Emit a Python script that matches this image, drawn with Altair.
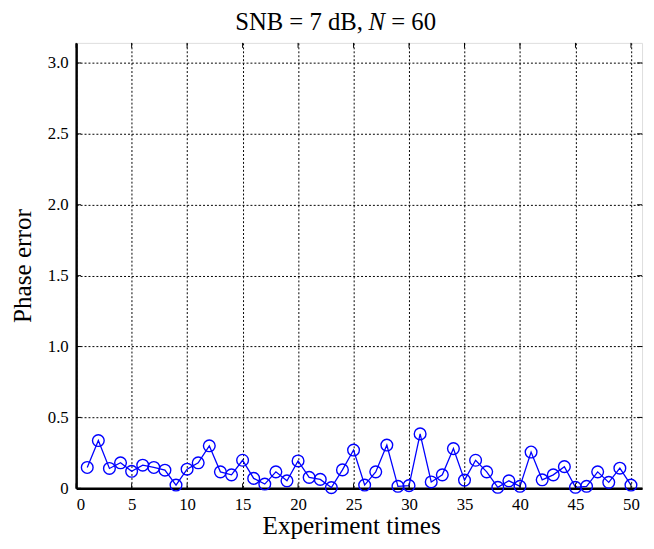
import math
import altair as alt
import pandas as pd

experiment = list(range(1, 51))
phase_error = [0.147, 0.337, 0.140, 0.180, 0.120, 0.163, 0.147, 0.128, 0.023, 0.135,
               0.180, 0.300, 0.116, 0.095, 0.198, 0.070, 0.030, 0.116, 0.053, 0.193,
               0.077, 0.063, 0.005, 0.130, 0.270, 0.023, 0.116, 0.305, 0.014, 0.019,
               0.384, 0.045, 0.095, 0.280, 0.058, 0.198, 0.116, 0.007, 0.053, 0.014,
               0.256, 0.060, 0.095, 0.153, 0.007, 0.014, 0.116, 0.042, 0.142, 0.023]
x_ticks = [0, 5, 10, 15, 20, 25, 30, 35, 40, 45, 50]
y_ticks = [0, 0.5, 1.0, 1.5, 2.0, 2.5, 3.0]
title_parts = ["SNB = 7 dB,", "N", "= 60"]

W, H = 573, 451
FONT = "Liberation Serif"
BLUE = "#0000ff"

df = pd.DataFrame({"x": experiment, "y": phase_error})
xs = alt.Scale(domain=[0, 51], nice=False)
ys = alt.Scale(domain=[0, math.pi], nice=False)

base = alt.Chart(df)

line = base.mark_line(color=BLUE, strokeWidth=1.3).encode(
    x=alt.X("x:Q", scale=xs, axis=alt.Axis(
        values=x_ticks, title="Experiment times", grid=True, gridColor="black",
        gridDash=[2, 2], gridOpacity=1, gridWidth=1, ticks=False, labelFont=FONT,
        labelFontSize=17, labelColor="black", labelPadding=8, titleFont=FONT,
        titleFontSize=25.5, titleFontWeight="normal", titleColor="black",
        titlePadding=2, titleX=W / 2 - 8, domainColor="black", domainWidth=2.5)),
    y=alt.Y("y:Q", scale=ys, axis=alt.Axis(
        values=y_ticks, title="Phase error", grid=True, gridColor="black",
        gridDash=[2, 2], gridOpacity=1, gridWidth=1, ticks=False, labelFont=FONT,
        labelFontSize=17, labelColor="black", labelPadding=8, titleFont=FONT,
        titleFontSize=25.5, titleFontWeight="normal", titleColor="black",
        titlePadding=12, domainColor="black", domainWidth=2.5,
        labelExpr="datum.value == 0 ? '0' : format(datum.value, '.1f')")),
)
pts = base.mark_point(shape="circle", filled=False, color=BLUE, size=140, strokeWidth=1.4, opacity=1).encode(
    x=alt.X("x:Q", scale=xs), y=alt.Y("y:Q", scale=ys))

xt = pd.DataFrame({"v": x_ticks})
yt = pd.DataFrame({"v": y_ticks})
tick_len = 5
xb = alt.Chart(xt).mark_rule(color="black", strokeWidth=1).encode(
    x=alt.X("v:Q", scale=xs), y=alt.value(H), y2=alt.value(H - tick_len))
xtop = alt.Chart(xt).mark_rule(color="black", strokeWidth=1).encode(
    x=alt.X("v:Q", scale=xs), y=alt.value(0), y2=alt.value(tick_len))
yl = alt.Chart(yt).mark_rule(color="black", strokeWidth=1).encode(
    y=alt.Y("v:Q", scale=ys), x=alt.value(0), x2=alt.value(tick_len))
yr = alt.Chart(yt).mark_rule(color="black", strokeWidth=1).encode(
    y=alt.Y("v:Q", scale=ys), x=alt.value(W), x2=alt.value(W - tick_len))

TY = -13
TS = 25
t1 = alt.Chart(pd.DataFrame({"t": [title_parts[0]]})).mark_text(
    font=FONT, fontSize=TS, align="left", baseline="alphabetic", color="black").encode(
    text="t:N", x=alt.value(161), y=alt.value(TY))
t2 = alt.Chart(pd.DataFrame({"t": [title_parts[1]]})).mark_text(
    font=FONT, fontSize=TS, fontStyle="italic", align="left", baseline="alphabetic", color="black").encode(
    text="t:N", x=alt.value(296), y=alt.value(TY))
t3 = alt.Chart(pd.DataFrame({"t": [title_parts[2]]})).mark_text(
    font=FONT, fontSize=TS, align="left", baseline="alphabetic", color="black").encode(
    text="t:N", x=alt.value(319), y=alt.value(TY))

chart = alt.layer(line, xb, xtop, yl, yr, pts, t1, t2, t3).properties(
    width=W, height=H,
    autosize=alt.AutoSizeParams(type="none"),
    padding={"left": 69, "top": 32, "right": 4, "bottom": 50},
).configure_view(stroke="black", strokeWidth=2).configure(background="white")

chart.save("out.html", embed_options={"renderer": "svg", "actions": False})
